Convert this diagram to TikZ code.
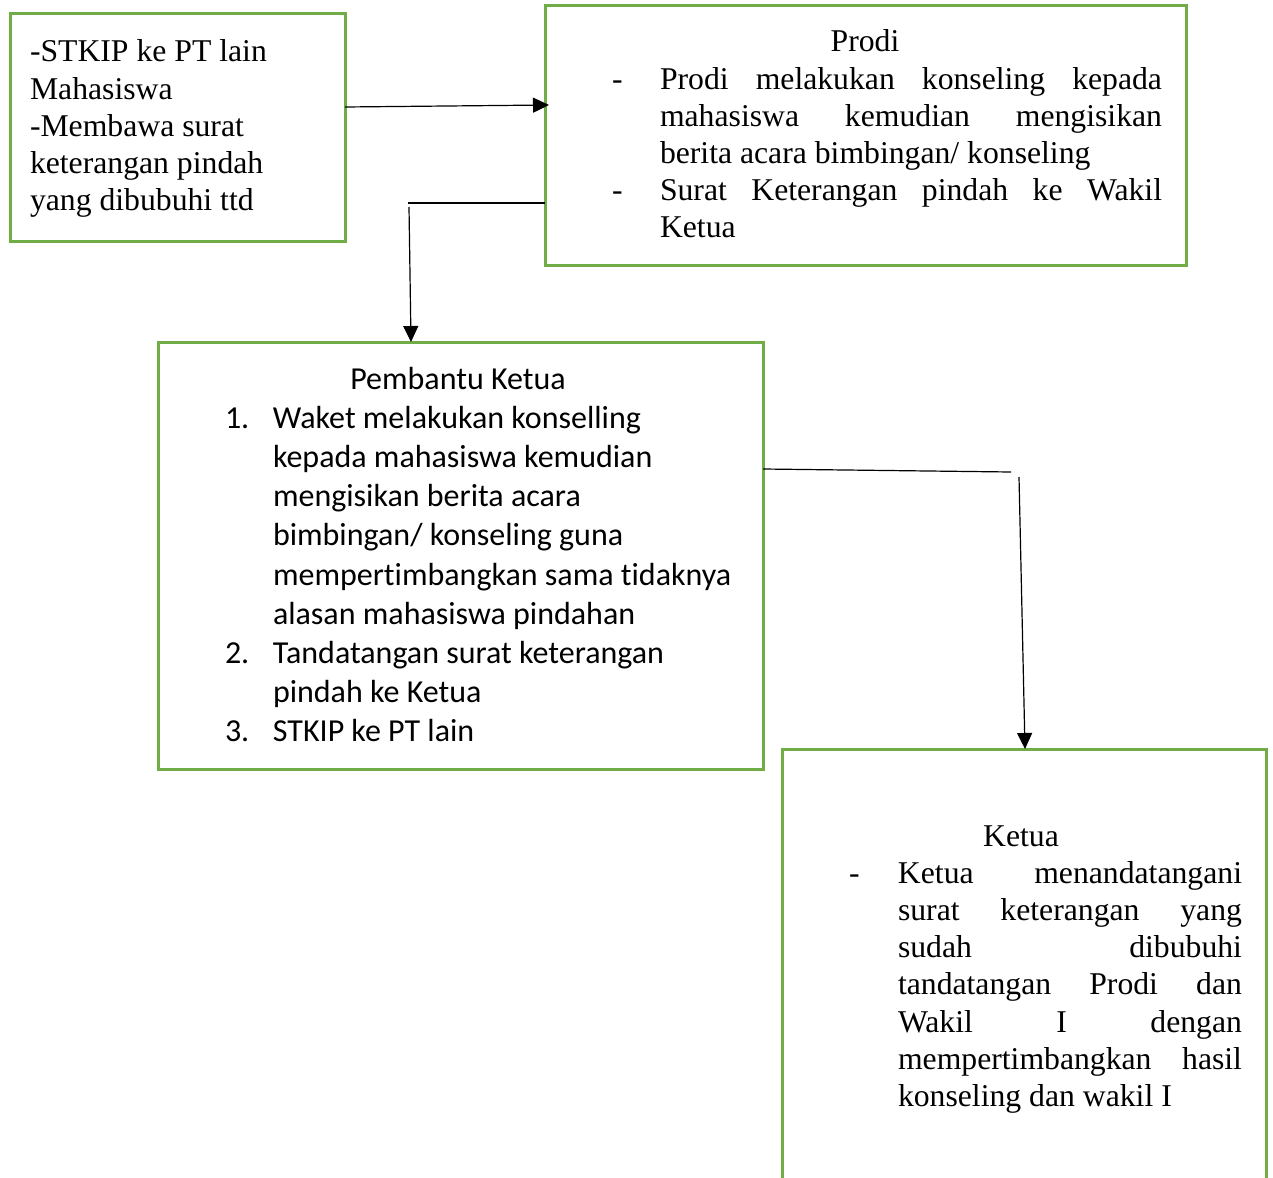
\documentclass[tikz,border=0pt]{standalone}
\usepackage{fontspec}
\setmainfont{Liberation Serif}
\newfontfamily\calfont[Ligatures=NoCommon]{Carlito}
\usetikzlibrary{arrows.meta}
\definecolor{boxgreen}{HTML}{70AD47}
\hbadness=10000
\hfuzz=20pt
\begin{document}
\begin{tikzpicture}[x=1pt,y=-1pt,
  gbox/.style={draw=boxgreen, line width=3pt, inner sep=0pt, outer sep=0pt},
  link/.style={draw=black, line width=1.2pt},
  arr/.style={link, -{Triangle[length=16pt,width=15pt]}},
  txt/.style={inner sep=0pt, outer sep=0pt, anchor=base west},
  tnr/.style={font=\fontsize{31.7}{37.2}\selectfont},
  cal/.style={font=\calfont\fontsize{32}{39.2}\selectfont},
]
\useasboundingbox (0,0) rectangle (1273,1177);
\clip (0,0) rectangle (1273,1177);

% boxes
\node[gbox, minimum width=335pt, minimum height=227pt] (mhs) at (177.5,127.5) {};
\node[gbox, minimum width=641pt, minimum height=259pt] (prodi) at (865.5,135.5) {};
\node[gbox, minimum width=605pt, minimum height=427pt] (wakil) at (460.5,555.5) {};
\node[gbox, minimum width=484pt, minimum height=551pt] (ketua) at (1024,1024.5) {};

% texts
\node[txt,tnr] (mhsT) at (30,62) {\parbox[t]{310pt}{\raggedright
-STKIP ke PT lain\\
Mahasiswa\\
-Membawa surat\\
keterangan pindah\\
yang dibubuhi ttd}};

\node[txt,tnr] (prodiT) at (612,52) {\parbox[t]{560pt}{%
\makebox[506pt]{Prodi}\\
\makebox[48pt][l]{-}\makebox[502pt][s]{Prodi melakukan konseling kepada}\\
\hspace*{48pt}\makebox[502pt][s]{mahasiswa kemudian mengisikan}\\
\hspace*{48pt}berita acara bimbingan/ konseling\\
\makebox[48pt][l]{-}\makebox[502pt][s]{Surat Keterangan pindah ke Wakil}\\
\hspace*{48pt}Ketua}};

\node[txt,cal] (wakilT) at (225,389) {\parbox[t]{540pt}{%
\makebox[466pt]{Pembantu Ketua}\\
\makebox[48pt][l]{1.}Waket melakukan konselling\\
\hspace*{48pt}kepada mahasiswa kemudian\\
\hspace*{48pt}mengisikan berita acara\\
\hspace*{48pt}bimbingan/ konseling guna\\
\hspace*{48pt}mempert{}imbangkan sama t{}idaknya\\
\hspace*{48pt}alasan mahasiswa pindahan\\
\makebox[48pt][l]{2.}Tandatangan surat keterangan\\
\hspace*{48pt}pindah ke Ketua\\
\makebox[48pt][l]{3.}STKIP ke PT lain}};

\node[txt,tnr] (ketuaT) at (849,846) {\parbox[t]{420pt}{%
\makebox[344pt]{Ketua}\\
\makebox[49pt][l]{-}\makebox[344pt][s]{Ketua menandatangani}\\
\hspace*{49pt}\makebox[344pt][s]{surat keterangan yang}\\
\hspace*{49pt}\makebox[344pt][s]{sudah dibubuhi}\\
\hspace*{49pt}\makebox[344pt][s]{tandatangan Prodi dan}\\
\hspace*{49pt}\makebox[344pt][s]{Wakil I dengan}\\
\hspace*{49pt}\makebox[344pt][s]{mempertimbangkan hasil}\\
\hspace*{49pt}konseling dan wakil I}};

% connectors
\coordinate (k1) at (408,203);
\coordinate (k2) at (409,207);
\coordinate (k3) at (1011,472);
\coordinate (k4) at (1019,477);
\draw[arr] ([yshift=-93pt]mhs.north east) -- ([xshift=4pt,yshift=-99pt]prodi.north west);
\draw[link] ([yshift=-197pt]prodi.north west) -- (k1);
\draw[arr] (k2) -- ([xshift=253pt]wakil.north west);
\draw[link] ([yshift=-127pt]wakil.north east) -- (k3);
\draw[arr] (k4) -- ([xshift=243pt]ketua.north west);
\end{tikzpicture}
\end{document}
